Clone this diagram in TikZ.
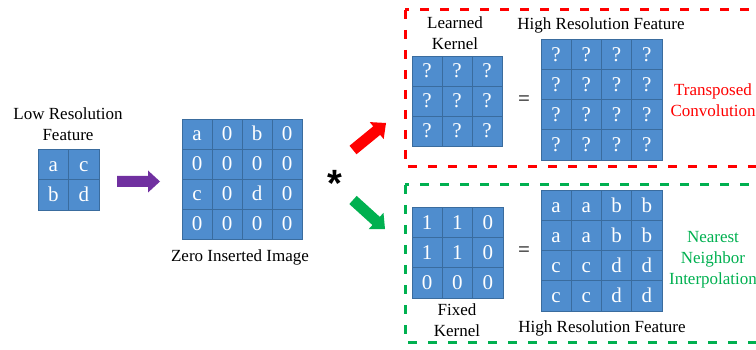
\documentclass[tikz,border=0pt]{standalone}
\usepackage{fontspec}
\setmainfont{Liberation Serif}
\newfontfamily\starfont{Liberation Sans}
\usetikzlibrary{calc}

\definecolor{cellblue}{RGB}{79,141,206}
\definecolor{cellline}{RGB}{58,108,158}
\definecolor{tconv}{RGB}{255,0,0}
\definecolor{nninterp}{RGB}{0,176,80}
\definecolor{upsample}{RGB}{112,48,160}

% A grid of feature cells: name, left, top, cell size, columns, entries
\newcommand\featgrid[6]{%
  \foreach \v [count=\k from 0] in {#6} {
    \pgfmathtruncatemacro\r{div(\k,#5)}
    \pgfmathtruncatemacro\c{mod(\k,#5)}
    \node[cell, minimum size=#4pt] (#1-\r-\c)
      at ({#2+(\c+0.5)*#4},{#3+(\r+0.5)*#4}) {\v};
  }%
}

% A filled block arrow: colour, tail, tip
\newcommand\blockarrow[3]{%
  \path ($(#3)!12pt!(#2)$) coordinate (ba-base);
  \fill[#1] ($(#2)!5.5pt!90:(#3)$) -- ($(ba-base)!5.5pt!90:(#3)$)
    -- ($(ba-base)!11pt!90:(#3)$) -- (#3)
    -- ($(ba-base)!11pt!-90:(#3)$) -- ($(ba-base)!5.5pt!-90:(#3)$)
    -- ($(#2)!5.5pt!-90:(#3)$) -- cycle;
}

\tikzset{
  cell/.style={draw=cellline, line width=0.8pt, fill=cellblue, text=white,
    inner sep=0pt, anchor=center, font=\fontsize{21}{24}\selectfont,
    text height=14pt, text depth=0pt},
  caption/.style={align=center, inner sep=0pt,
    font=\fontsize{17}{21}\selectfont},
  dashbox/.style={line width=3pt, dash pattern=on 9pt off 11pt},
}

\begin{document}
\begin{tikzpicture}[x=1pt, y=-1pt]
  \useasboundingbox (0,0) rectangle (756,350);
  \clip (0,0) rectangle (756,350);

  % input and zero-inserted feature maps
  \node[caption] (lrlabel) at (68,124) {Low Resolution\\Feature};
  \featgrid{lr}{38}{149}{30.5}{2}{a,c,b,d}

  \featgrid{zi}{182}{119}{30}{4}{a,0,b,0,0,0,0,0,c,0,d,0,0,0,0,0}
  \node[caption] (zilabel) at (240,257) {Zero Inserted Image};

  \coordinate (up-tail) at (117,181.5);
  \coordinate (up-tip) at (160,181.5);
  \blockarrow{upsample}{up-tail}{up-tip}

  \node[font=\starfont\bfseries\fontsize{38}{38}\selectfont, inner sep=0pt,
    anchor=base] (conv) at (335,197) {*};

  \coordinate (tc-tail) at (353,150);
  \coordinate (tc-tip) at (386,123);
  \blockarrow{tconv}{tc-tail}{tc-tip}

  \coordinate (nn-tail) at (353,200);
  \coordinate (nn-tip) at (385,229);
  \blockarrow{nninterp}{nn-tail}{nn-tip}

  % transposed convolution branch
  \draw[tconv, dashbox] (405,10) rectangle (780,167);
  \node[caption] (lklabel) at (455,33) {Learned\\Kernel};
  \featgrid{lk}{412}{56}{30}{3}{?,?,?,?,?,?,?,?,?}
  \node[font=\fontsize{21}{24}\selectfont, inner sep=0pt] (eqtop) at (524,101) {=};
  \node[caption] (hrtoplabel) at (601,25) {High Resolution Feature};
  \featgrid{hrt}{541}{39}{30.25}{4}{?,?,?,?,?,?,?,?,?,?,?,?,?,?,?,?}
  \node[caption, text=tconv] (tclabel) at (713,100) {Transposed\\Convolution};

  % nearest neighbour branch
  \draw[nninterp, dashbox] (405,185) rectangle (780,342);
  \featgrid{fk}{412}{207}{30.3}{3}{1,1,0,1,1,0,0,0,0}
  \node[caption] (fklabel) at (457,320) {Fixed\\Kernel};
  \node[font=\fontsize{21}{24}\selectfont, inner sep=0pt] (eqbot) at (524,252) {=};
  \featgrid{hrb}{541}{190}{30.25}{4}{a,a,b,b,a,a,b,b,c,c,d,d,c,c,d,d}
  \node[caption] (hrbotlabel) at (602,328) {High Resolution Feature};
  \node[caption, text=nninterp] (nnlabel) at (713,260) {Nearest\\Neighbor\\Interpolation};
\end{tikzpicture}
\end{document}
